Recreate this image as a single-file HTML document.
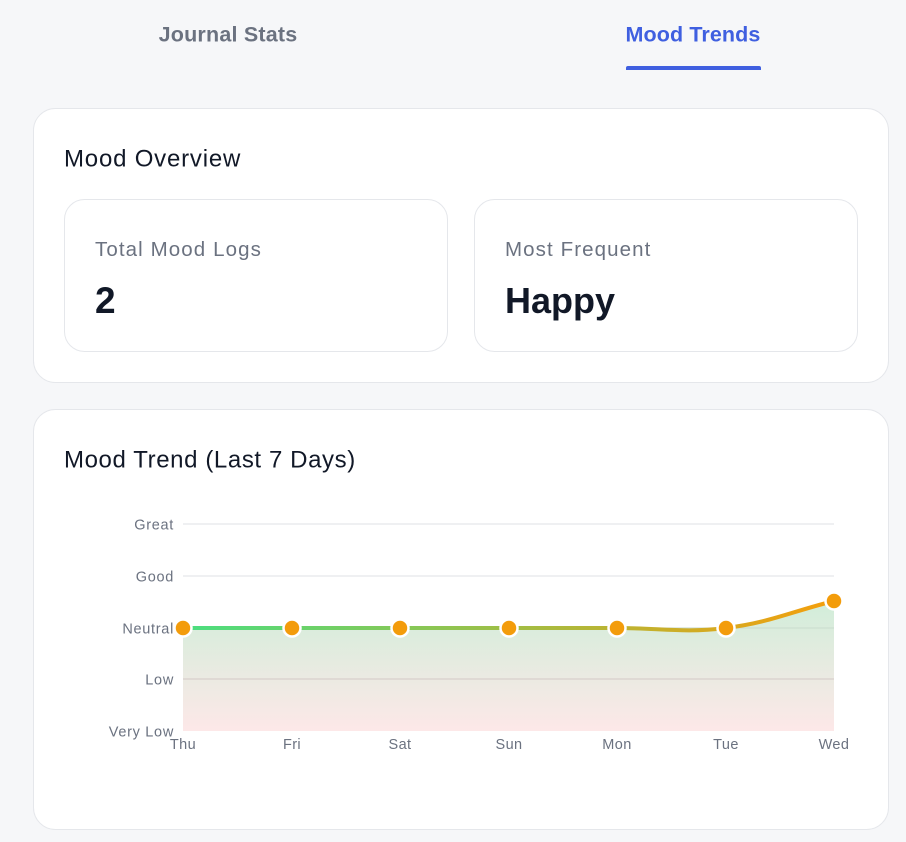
<!DOCTYPE html>
<html><head><meta charset="utf-8"><style>
html,body{margin:0;padding:0;background:#f6f7f9;}
svg{display:block;font-family:"Liberation Sans",sans-serif;}
</style></head><body>
<svg width="906" height="842" viewBox="0 0 906 842" xmlns="http://www.w3.org/2000/svg">
<defs>
<linearGradient id="lg" x1="183" y1="0" x2="834" y2="0" gradientUnits="userSpaceOnUse">
<stop offset="0" stop-color="#4ade80"/><stop offset="1" stop-color="#f59e0b"/>
</linearGradient>
<linearGradient id="ag" x1="0" y1="590" x2="0" y2="731" gradientUnits="userSpaceOnUse">
<stop offset="0" stop-color="#cdeed8"/><stop offset="1" stop-color="#fde8e8"/>
</linearGradient>
</defs>
<rect width="906" height="842" fill="#f6f7f9"/>
<text x="228" y="41.5" text-anchor="middle" font-size="21.5" letter-spacing="0.2" font-weight="bold" fill="#6b7280">Journal Stats</text>
<text x="693" y="41.5" text-anchor="middle" font-size="21.5" letter-spacing="0.1" font-weight="bold" fill="#3f5fe0">Mood Trends</text>
<path d="M626 70 L626 68 Q626 66 628 66 L759 66 Q761 66 761 68 L761 70 Z" fill="#3f5fe0"/>

<rect x="33.5" y="108.5" width="855" height="274" rx="22" fill="#fff" stroke="#e5e7eb"/>
<text x="64" y="166.5" font-size="24" letter-spacing="0.8" fill="#111827">Mood Overview</text>
<rect x="64.5" y="199.5" width="383" height="152" rx="20" fill="#fff" stroke="#e5e7eb"/>
<rect x="474.5" y="199.5" width="383" height="152" rx="20" fill="#fff" stroke="#e5e7eb"/>
<text x="95" y="256" font-size="20.5" letter-spacing="1.1" fill="#6b7280">Total Mood Logs</text>
<text x="505" y="256" font-size="20.5" letter-spacing="1.1" fill="#6b7280">Most Frequent</text>
<text x="95" y="313" font-size="37" font-weight="bold" fill="#111827">2</text>
<text x="505" y="313" font-size="36" font-weight="bold" fill="#111827">Happy</text>

<rect x="33.5" y="409.5" width="855" height="420" rx="22" fill="#fff" stroke="#e5e7eb"/>
<text x="64" y="467.5" font-size="24" letter-spacing="0.6" fill="#111827">Mood Trend (Last 7 Days)</text>

<g stroke="#e5e7eb" stroke-width="1.2">
<line x1="183" y1="524" x2="834" y2="524"/>
<line x1="183" y1="576" x2="834" y2="576"/>
<line x1="183" y1="628" x2="834" y2="628"/>
<line x1="183" y1="679" x2="834" y2="679"/>
</g>
<path d="M183 628 L292 628 L400 628 L509 628 L617 628 C660.4 628 683 633.3 726 628 C769.9 622.5 790.8 611.8 834 601 L834 731 L183 731 Z" fill="url(#ag)"/>
<line x1="183" y1="679" x2="834" y2="679" stroke="#d8cfcc" stroke-width="1.2"/>
<line x1="183" y1="628" x2="834" y2="628" stroke="#c9dccd" stroke-width="1"/>
<path d="M183 628 L292 628 L400 628 L509 628 L617 628 C660.4 628 683 633.3 726 628 C769.9 622.5 790.8 611.8 834 601" fill="none" stroke="url(#lg)" stroke-width="4" stroke-linecap="round"/>
<g fill="#f39c0b" stroke="#fff" stroke-width="2.5">
<circle cx="183" cy="628" r="8.5"/>
<circle cx="292" cy="628" r="8.5"/>
<circle cx="400" cy="628" r="8.5"/>
<circle cx="509" cy="628" r="8.5"/>
<circle cx="617" cy="628" r="8.5"/>
<circle cx="726" cy="628" r="8.5"/>
<circle cx="834" cy="601" r="8.5"/>
</g>
<g font-size="14.5" letter-spacing="0.7" fill="#6b7280" text-anchor="end">
<text x="174" y="529.5">Great</text>
<text x="174" y="581.5">Good</text>
<text x="174" y="633.5">Neutral</text>
<text x="174" y="684.5">Low</text>
<text x="174" y="736.5">Very Low</text>
</g>
<g font-size="14.5" letter-spacing="0.4" fill="#6b7280" text-anchor="middle">
<text x="183" y="749">Thu</text>
<text x="292" y="749">Fri</text>
<text x="400" y="749">Sat</text>
<text x="509" y="749">Sun</text>
<text x="617" y="749">Mon</text>
<text x="726" y="749">Tue</text>
<text x="834" y="749">Wed</text>
</g>
</svg>
</body></html>
